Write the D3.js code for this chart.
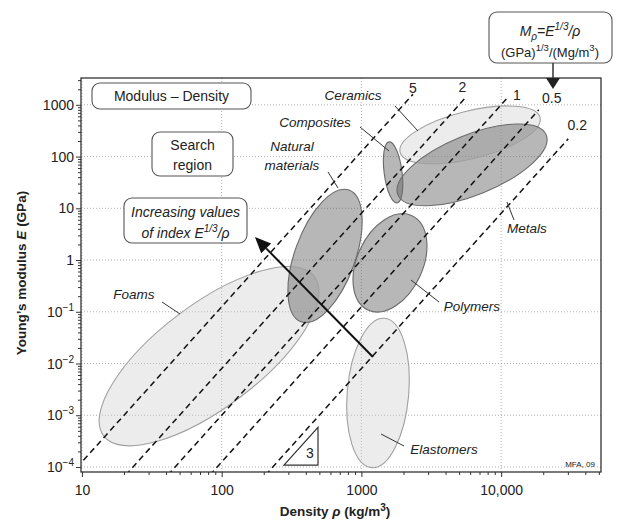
<!DOCTYPE html>
<html><head><meta charset="utf-8">
<script src="https://cdn.jsdelivr.net/npm/d3@7"></script>
<style>body{margin:0;background:#fff} text{font-family:"Liberation Sans",Arial,Helvetica,sans-serif;fill:#222}</style>
</head><body><svg id="c" width="620" height="523"></svg>
<script>
// ---------- data ----------
const xTicks=[10,100,1000,10000];
const xTickLabels=["10","100","1000","10,000"];
const yTicks=[1000,100,10,1,0.1,0.01,0.001,0.0001];
const yTickBase=["1000","100","10","1","10","10","10","10"];
const yTickExp=["","","","","\u22121","\u22122","\u22123","\u22124"];
// guide lines M = E^(1/3)/rho  (E in GPa, rho in Mg/m3)
const guideIndex=[5,2,1,0.5,0.2];
const guideLabels=["5","2","1","0.5","0.2"];
const guideEmax=[1600,1300,1400,800,220];
const guideEmin=5e-5;
// material family envelopes: major-axis ends (rho kg/m3, E GPa) and width ratio
const familyNames=["Foams","Elastomers","Ceramics","Metals","Polymers","Natural materials","Composites"];
const familyRho1=[14.3,1181,1892,1824,1114,370,1799];
const familyE1=[4.0e-4,9.7e-5,121,18.2,0.108,0.064,12.7];
const familyRho2=[461,1462,18970,21000,2300,815,1578];
const familyE2=[0.48,0.0748,570,263,7.2,22.5,192];
const familyWidth=[0.39,0.41,0.33,0.375,0.63,0.43,0.29];
const familyShade=["light","light","light","dark","dark","dark","dark"];
// index arrow (start, end) and slope triangle
const arrowRho=[1209,173], arrowE=[0.01338,2.79];
const triRho=[279,489], triE0=1.09e-4, triSlope=3;

// ---------- chart ----------
const svg=d3.select("#c");
const L=81,R=601,T=78,B=472;
const x=d3.scaleLog().domain([9.85,51800]).range([L,R]);
const y=d3.scaleLog().domain([8e-5,3300]).range([B,T]);

svg.append("defs").append("clipPath").attr("id","clip")
  .append("rect").attr("x",L).attr("y",T).attr("width",R-L).attr("height",B-T);

// grid
const grid=svg.append("g").attr("stroke","#9a9a9a").attr("stroke-width",0.8).attr("stroke-dasharray","1,2");
grid.selectAll(".gx").data(xTicks).join("line").attr("x1",d=>x(d)).attr("x2",d=>x(d)).attr("y1",T).attr("y2",B);
grid.selectAll(".gy").data(yTicks).join("line").attr("y1",d=>y(d)).attr("y2",d=>y(d)).attr("x1",L).attr("x2",R);

// envelopes
const fam=familyNames.map((n,i)=>{
  const p1=[x(familyRho1[i]),y(familyE1[i])], p2=[x(familyRho2[i]),y(familyE2[i])];
  const cx=(p1[0]+p2[0])/2, cy=(p1[1]+p2[1])/2;
  const a=Math.hypot(p2[0]-p1[0],p2[1]-p1[1])/2;
  const ang=Math.atan2(p2[1]-p1[1],p2[0]-p1[0])*180/Math.PI;
  return {n,cx,cy,a,b:a*familyWidth[i],ang,shade:familyShade[i]};
});
const eg=svg.append("g").attr("clip-path","url(#clip)");
eg.selectAll(".ef").data(fam).join("ellipse")
  .attr("cx",d=>d.cx).attr("cy",d=>d.cy).attr("rx",d=>d.a).attr("ry",d=>d.b)
  .attr("transform",d=>`rotate(${d.ang},${d.cx},${d.cy})`)
  .attr("fill",d=>d.shade==="dark"?"#5a5a5a":"#d0d0d0")
  .attr("fill-opacity",d=>d.shade==="dark"?0.44:0.4).attr("stroke","none");
eg.selectAll(".eo").data(fam).join("ellipse")
  .attr("cx",d=>d.cx).attr("cy",d=>d.cy).attr("rx",d=>d.a).attr("ry",d=>d.b)
  .attr("transform",d=>`rotate(${d.ang},${d.cx},${d.cy})`)
  .attr("fill","none").attr("stroke",d=>d.shade==="dark"?"#6a6a6a":"#a0a0a0").attr("stroke-width",1.1);

// guide lines
const rhoOf=(E,M)=>1000*Math.cbrt(E)/M;
const gg=svg.append("g").attr("clip-path","url(#clip)");
gg.selectAll("line").data(guideIndex).join("line")
  .attr("x1",(M)=>x(rhoOf(guideEmin,M))).attr("y1",y(guideEmin))
  .attr("x2",(M,i)=>x(rhoOf(guideEmax[i],M))).attr("y2",(M,i)=>y(guideEmax[i]))
  .attr("stroke","#111").attr("stroke-width",1.5).attr("stroke-dasharray","6,4");
const guideLabelOff=[[0,-1],[-2,-7],[9,3],[13,-7],[9,-9]];
svg.append("g").selectAll("text").data(guideIndex).join("text")
  .attr("x",(M,i)=>x(rhoOf(guideEmax[i],M))+guideLabelOff[i][0])
  .attr("y",(M,i)=>y(guideEmax[i])+guideLabelOff[i][1])
  .attr("text-anchor","middle").attr("font-size",14).text((M,i)=>guideLabels[i]);

// axes
const minorOf=ticks=>ticks.flatMap(t=>d3.range(2,10).map(k=>t*k));
const xMinor=minorOf([10,100,1000,10000]).filter(v=>v<51800);
const yMinor=minorOf([1e-4,1e-3,1e-2,0.1,1,10,100,1000]).filter(v=>v<3300);
const ax=svg.append("g").attr("transform",`translate(0,${B})`);
ax.call(d3.axisBottom(x).tickValues(xMinor).tickSize(3).tickFormat(""));
const ax2=svg.append("g").attr("transform",`translate(0,${B})`)
  .call(d3.axisBottom(x).tickValues(xTicks).tickSize(5).tickFormat((d,i)=>xTickLabels[i]));
ax2.selectAll("text").attr("font-size",14).attr("dy","1.1em").style("font-family","Liberation Sans,Arial").attr("fill","#222");
const ay=svg.append("g").attr("transform",`translate(${L},0)`);
ay.call(d3.axisLeft(y).tickValues(yMinor).tickSize(3).tickFormat(""));
const ay2=svg.append("g").attr("transform",`translate(${L},0)`)
  .call(d3.axisLeft(y).tickValues(yTicks).tickSize(5).tickFormat(""));
[ax,ax2,ay,ay2].forEach(g=>{g.select(".domain").remove();g.selectAll("line").attr("stroke","#333");});
const yl=svg.append("g").selectAll("text").data(yTicks).join("text")
  .attr("x",L-7).attr("y",d=>y(d)+5).attr("text-anchor","end").attr("font-size",14);
yl.append("tspan").text((d,i)=>yTickBase[i]);
yl.append("tspan").attr("dy",-6).attr("font-size",10).text((d,i)=>yTickExp[i]);
// frame
svg.append("rect").attr("x",L).attr("y",T).attr("width",R-L).attr("height",B-T)
  .attr("fill","none").attr("stroke","#333").attr("stroke-width",1.3);

// axis titles
const xt=svg.append("text").attr("x",335).attr("y",516).attr("text-anchor","middle").attr("font-size",13.5).attr("font-weight","bold");
xt.append("tspan").text("Density ");
xt.append("tspan").attr("font-style","italic").text("\u03c1");
xt.append("tspan").text(" (kg/m");
xt.append("tspan").attr("dy",-5).attr("font-size",10).text("3");
xt.append("tspan").attr("dy",5).text(")");
const yt=svg.append("text").attr("transform","translate(26,273) rotate(-90)").attr("text-anchor","middle").attr("font-size",13.5).attr("font-weight","bold");
yt.append("tspan").text("Young\u2019s modulus ");
yt.append("tspan").attr("font-style","italic").text("E");
yt.append("tspan").text(" (GPa)");

// family labels with leaders
const famLabels=[
  {t:["Ceramics"],x:353,y:[100],l:[395,106,418,131]},
  {t:["Composites"],x:315,y:[127],l:[360,127,389,151]},
  {t:["Natural","materials"],x:292,y:[151,170],l:[328,172,338,188]},
  {t:["Metals"],x:527,y:[233],l:[507,202,514,220]},
  {t:["Polymers"],x:472,y:[311],l:[411,280,439,302]},
  {t:["Foams"],x:134,y:[299],l:[162,302,180,314]},
  {t:["Elastomers"],x:444,y:[454],l:[381,434,404,446]}
];
const fl=svg.append("g");
famLabels.forEach(f=>{
  f.t.forEach((s,j)=>fl.append("text").attr("x",f.x).attr("y",f.y[j]).attr("text-anchor","middle")
    .attr("font-size",13.5).attr("font-style","italic").text(s));
  fl.append("line").attr("x1",f.l[0]).attr("y1",f.l[1]).attr("x2",f.l[2]).attr("y2",f.l[3])
    .attr("stroke","#333").attr("stroke-width",1);
});

// boxes
function box(x0,y0,x1,y1){svg.append("rect").attr("x",x0).attr("y",y0).attr("width",x1-x0).attr("height",y1-y0)
  .attr("rx",8).attr("fill","#fff").attr("stroke","#555").attr("stroke-width",1.1);}
box(92,83,251,109);
svg.append("text").attr("x",171.5).attr("y",101).attr("text-anchor","middle").attr("font-size",14).text("Modulus \u2013 Density");
box(152,132,233,176);
svg.append("text").attr("x",192.5).attr("y",150).attr("text-anchor","middle").attr("font-size",14).text("Search");
svg.append("text").attr("x",192.5).attr("y",170).attr("text-anchor","middle").attr("font-size",14).text("region");
box(124,198,247,243);
svg.append("text").attr("x",185.5).attr("y",217).attr("text-anchor","middle").attr("font-size",14).attr("font-style","italic").text("Increasing values");
const t2=svg.append("text").attr("x",185.5).attr("y",238).attr("text-anchor","middle").attr("font-size",14).attr("font-style","italic");
t2.append("tspan").text("of index E");
t2.append("tspan").attr("dy",-6).attr("font-size",10).text("1/3");
t2.append("tspan").attr("dy",6).text("/\u03c1");
box(489,12,612,63);
const m1=svg.append("text").attr("x",550).attr("y",36).attr("text-anchor","middle").attr("font-size",14).attr("font-style","italic");
m1.append("tspan").text("M");
m1.append("tspan").attr("dy",4).attr("font-size",10).text("\u03c1");
m1.append("tspan").attr("dy",-4).text("=E");
m1.append("tspan").attr("dy",-6).attr("font-size",10).text("1/3");
m1.append("tspan").attr("dy",6).text("/\u03c1");
const m2=svg.append("text").attr("x",550).attr("y",57).attr("text-anchor","middle").attr("font-size",13);
m2.append("tspan").text("(GPa)");
m2.append("tspan").attr("dy",-6).attr("font-size",9.5).text("1/3");
m2.append("tspan").attr("dy",6).text("/(Mg/m");
m2.append("tspan").attr("dy",-6).attr("font-size",9.5).text("3");
m2.append("tspan").attr("dy",6).text(")");
svg.append("line").attr("x1",553).attr("y1",63).attr("x2",553).attr("y2",80).attr("stroke","#333").attr("stroke-width",1.5);
svg.append("path").attr("d","M546,78L560,78L553,89Z").attr("fill","#222");

// index arrow
const a0=[x(arrowRho[0]),y(arrowE[0])], a1=[x(arrowRho[1]),y(arrowE[1])];
const dx=a1[0]-a0[0], dy=a1[1]-a0[1], len=Math.hypot(dx,dy), ux=dx/len, uy=dy/len;
const hl=16, hw=7;
const hb=[a1[0]-ux*hl,a1[1]-uy*hl];
svg.append("line").attr("x1",a0[0]).attr("y1",a0[1]).attr("x2",hb[0]).attr("y2",hb[1]).attr("stroke","#111").attr("stroke-width",2);
svg.append("path").attr("d",`M${a1[0]},${a1[1]}L${hb[0]-uy*hw},${hb[1]+ux*hw}L${hb[0]+uy*hw},${hb[1]-ux*hw}Z`).attr("fill","#111");

// slope triangle
const tE1=triE0*Math.pow(triRho[1]/triRho[0],triSlope);
svg.append("path").attr("d",`M${x(triRho[0])},${y(triE0)}L${x(triRho[1])},${y(triE0)}L${x(triRho[1])},${y(tE1)}Z`)
  .attr("fill","none").attr("stroke","#333").attr("stroke-width",1.2);
svg.append("text").attr("x",x(triRho[1])-8).attr("y",y(triE0)-7).attr("text-anchor","middle").attr("font-size",14).text("3");

svg.append("text").attr("x",595).attr("y",467).attr("text-anchor","end").attr("font-size",8).text("MFA, 09");
</script></body></html>
